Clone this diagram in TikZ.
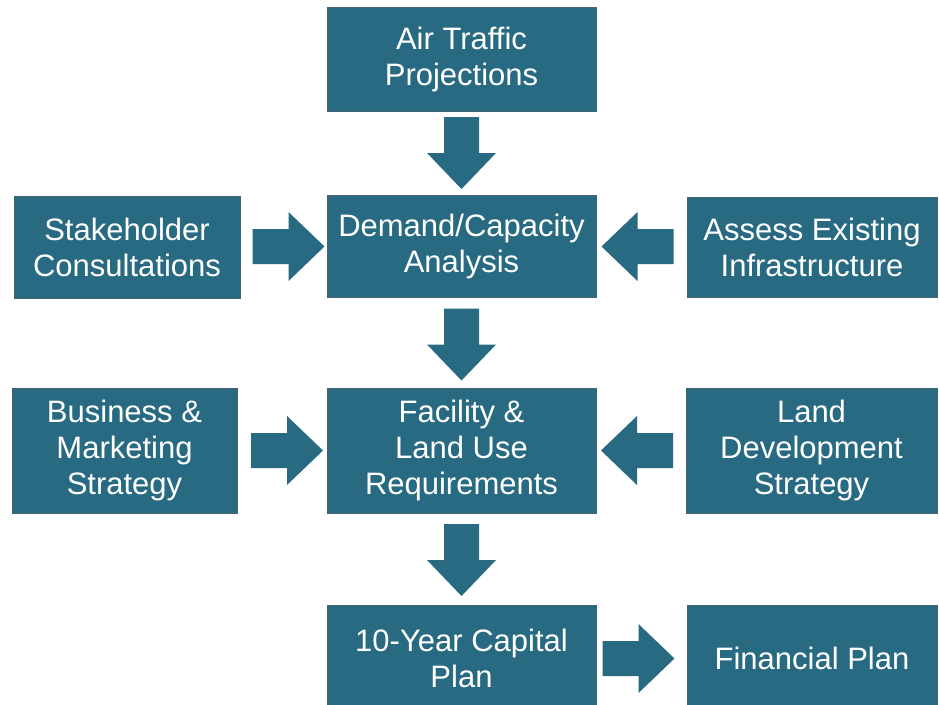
\documentclass[tikz,border=0pt]{standalone}
\usepackage{fontspec}
\setmainfont{Liberation Sans}
\usetikzlibrary{calc}
\definecolor{boxcol}{RGB}{40,106,130}
\definecolor{boxedge}{RGB}{70,100,115}
\begin{document}
\begin{tikzpicture}[x=1pt,y=-1pt,
  stagebox/.style={rectangle, fill=boxcol, draw=boxedge, line width=0.8pt,
    text=white, align=center, inner sep=0pt,
    font=\fontsize{31}{36}\selectfont},
  barrow/.pic={\fill[boxcol] (-36,-17.5) -- (0,-17.5) -- (0,-34.5) -- (36,0)
    -- (0,34.5) -- (0,17.5) -- (-36,17.5) -- cycle;}]
\useasboundingbox (0,0) rectangle (939,704);

% centre column
\node[stagebox, minimum width=269, minimum height=104] (air) at (461.5,59) {Air Traffic\\Projections};
\node[stagebox, minimum width=269, minimum height=102] (dem) at (461.5,246) {Demand/Capacity\\Analysis};
\node[stagebox, minimum width=269, minimum height=125] (fac) at (461.5,450.5) {Facility \&\\Land Use\\Requirements};
\node[stagebox, minimum width=269, minimum height=107] (cap) at (461.5,658.5) {10-Year Capital\\Plan};

% side inputs
\node[stagebox, minimum width=226, minimum height=102] (stake) at (127,247) {Stakeholder\\Consultations};
\node[stagebox, minimum width=250, minimum height=100] (assess) at (812,247) {Assess Existing\\Infrastructure};
\node[stagebox, minimum width=225, minimum height=125] (bus) at (124.5,450.5) {Business \&\\Marketing\\Strategy};
\node[stagebox, minimum width=251, minimum height=125] (land) at (811.5,450.5) {Land\\Development\\Strategy};
\node[stagebox, minimum width=250, minimum height=107] (fin) at (812,658.5) {Financial Plan};

% block arrows between stages
\pic[rotate=-90] at ($(air.south)!0.5!(dem.north)$) {barrow};
\pic[rotate=-90] at ($(dem.south)!0.5!(fac.north)+(0,2)$) {barrow};
\pic[rotate=-90] at ($(fac.south)!0.5!(cap.north)+(0,1)$) {barrow};
\pic at ($(stake.east)!0.5!(dem.west)+(5,0)$) {barrow};
\pic at ($(bus.east)!0.5!(fac.west)+(5,0)$) {barrow};
\pic[rotate=180] at ($(assess.west)!0.5!(dem.east)+(-4,0)$) {barrow};
\pic[rotate=180] at ($(land.west)!0.5!(fac.east)+(-4,0)$) {barrow};
\pic at ($(cap.east)!0.5!(fin.west)+(-3,0)$) {barrow};
\end{tikzpicture}
\end{document}
